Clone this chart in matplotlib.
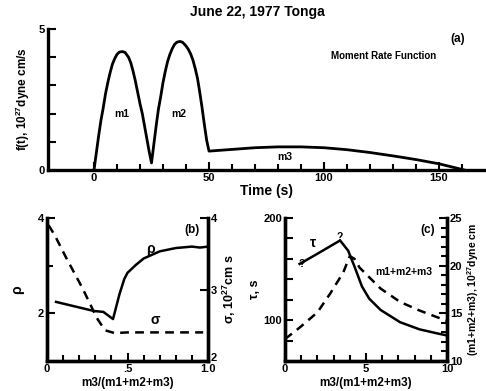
import matplotlib
matplotlib.use("Agg")
import matplotlib.pyplot as plt
from matplotlib.ticker import MultipleLocator, FixedLocator

plt.rcParams['font.family'] = ['Liberation Sans', 'DejaVu Sans']
plt.rcParams['font.weight'] = 'bold'
plt.rcParams['mathtext.default'] = 'regular'

# (a) moment rate function, time in s, f in 1e27 dyne cm/s
t_rate = [0, 1, 2, 3, 4, 5, 6, 7, 8, 9, 10, 11, 12.3, 13.5, 15, 16, 17, 18, 19, 20, 21, 22, 23, 24, 25,
          26, 27, 28, 29, 30, 31, 32, 33, 34, 35, 36, 37.3, 38.5, 40, 41, 42, 43, 44, 45, 46, 47, 48, 49, 50,
          60, 70, 80, 90, 100, 110, 120, 130, 140, 150, 161]
f_rate = [0, 0.6, 1.2, 1.75, 2.2, 2.7, 3.1, 3.45, 3.75, 3.95, 4.1, 4.18, 4.2, 4.17, 4.0, 3.8, 3.5, 3.15, 2.75, 2.35, 2.0, 1.55, 1.1, 0.65, 0.25,
          0.9, 1.55, 2.15, 2.6, 3.1, 3.5, 3.85, 4.1, 4.3, 4.45, 4.53, 4.56, 4.53, 4.4, 4.28, 4.12, 3.9, 3.6, 3.25, 2.75, 2.2, 1.6, 1.05, 0.67,
          0.73, 0.79, 0.82, 0.82, 0.79, 0.72, 0.62, 0.5, 0.37, 0.22, 0.0]

# (b) rho and sigma vs m3/(m1+m2+m3)
x_rho = [0.056, 0.29, 0.35, 0.41, 0.45, 0.48, 0.5, 0.55, 0.6, 0.7, 0.8, 0.9, 0.95, 1.0]
rho = [2.24, 2.05, 2.03, 1.88, 2.4, 2.72, 2.85, 3.01, 3.15, 3.3, 3.37, 3.4, 3.38, 3.4]
x_sig = [0.01, 0.05, 0.12, 0.22, 0.31, 0.36, 0.42, 0.5, 0.97]
sig = [3.9, 3.75, 3.44, 3.02, 2.6, 2.43, 2.39, 2.4, 2.4]

# (c) tau and total moment vs m3/(m1+m2+m3)
x_tau = [0.9, 2.0, 3.4, 3.9, 4.3, 4.75, 5.2, 5.9, 7.1, 8.3, 9.4, 10]
tau = [155, 165, 178, 168, 152, 133, 121, 110, 98, 91, 87, 85]
x_mom = [0, 0.9, 2.0, 2.8, 3.6, 4.0, 4.3, 4.6, 5.9, 7.1, 8.3, 10]
mom = [12.3, 13.5, 15.1, 17.1, 19.3, 21.0, 20.7, 19.8, 17.6, 16.2, 15.3, 14.2]

W, H = 486, 391
fig = plt.figure(figsize=(W / 100, H / 100), dpi=100)

def box(l, r, t, b):
    return [l / W, 1 - b / H, (r - l) / W, (b - t) / H]

def style(ax):
    for s in ax.spines.values():
        s.set_linewidth(2.4)
    ax.tick_params(direction='in', which='both', width=1.5, labelsize=8, pad=2)
    ax.tick_params(which='major', length=6)
    ax.tick_params(which='minor', length=4)

# ---- (a)
ax = fig.add_axes(box(48, 485, 29, 170))
ax.plot(t_rate, f_rate, color='k', lw=2)
ax.set_xlim(-20, 170)
ax.set_ylim(0, 5)
ax.spines['top'].set_visible(False)
ax.spines['right'].set_visible(False)
style(ax)
ax.xaxis.set_major_locator(FixedLocator([0, 50, 100, 150]))
ax.xaxis.set_minor_locator(FixedLocator([10, 20, 30, 40, 60, 70, 80, 90, 110, 120, 130, 140, 160]))
ax.yaxis.set_major_locator(FixedLocator([0, 5]))
ax.yaxis.set_minor_locator(FixedLocator([1, 2, 3, 4]))
ax.tick_params(axis='y', which='minor', length=6)
ax.set_xlabel('Time (s)', fontsize=10, fontweight='bold', labelpad=1)
ax.set_ylabel('f(t), 10$^{27}$dyne cm/s', fontsize=8.5, fontweight='bold', labelpad=5)
ax.text(12, 2.0, 'm1', fontsize=7.5, ha='center', va='center')
ax.text(37, 2.0, 'm2', fontsize=7.5, ha='center', va='center')
ax.text(83, 0.45, 'm3', fontsize=7.5, ha='center', va='center')
ax.text(158, 4.65, '(a)', fontsize=8.5, ha='center', va='center')
ax.text(126, 4.05, 'Moment Rate Function', fontsize=7, ha='center', va='center')
fig.text(257 / W, 1 - 12 / H, 'June 22, 1977 Tonga', fontsize=10, ha='center', va='center')

# ---- (b)
ax = fig.add_axes(box(47, 208, 218, 361))
ax.plot(x_rho, rho, color='k', lw=1.8)
ax.set_xlim(0, 1)
ax.set_ylim(1, 4)
ax.spines['top'].set_visible(False)
style(ax)
ax.xaxis.set_major_locator(FixedLocator([0, 0.5, 1]))
ax.set_xticklabels(['0', '.5', '1.0'])
ax.xaxis.set_minor_locator(MultipleLocator(0.1))
ax.yaxis.set_major_locator(FixedLocator([2, 4]))
ax.yaxis.set_minor_locator(FixedLocator([3]))
ax.set_ylabel('ρ', fontsize=10, fontweight='bold', labelpad=10)
ax.set_xlabel('m3/(m1+m2+m3)', fontsize=8.5, fontweight='bold', labelpad=2)
ax.text(0.64, 3.36, 'ρ', fontsize=10, ha='center', va='center')
ax.text(0.67, 1.86, 'σ', fontsize=10, ha='center', va='center')
ax.text(0.9, 3.75, '(b)', fontsize=8.5, ha='center', va='center')
ax2 = ax.twinx()
ax2.plot(x_sig, sig, color='k', lw=1.8, ls=(0, (3.5, 2.5)))
ax2.set_ylim(2, 4)
ax2.spines['top'].set_visible(False)
style(ax2)
ax2.yaxis.set_major_locator(FixedLocator([2, 3, 4]))
ax2.set_yticklabels(['2', '3', '4'])
ax2.get_yticklabels()[0].set_va('baseline')
ax2.set_ylabel('σ, 10$^{27}$cm s', fontsize=9, fontweight='bold', rotation=90, labelpad=3)

# ---- (c)
ax = fig.add_axes(box(285, 447, 218, 361))
ax.plot(x_tau, tau, color='k', lw=1.8)
ax.set_xlim(0, 10)
ax.set_ylim(60, 200)
ax.spines['top'].set_visible(False)
style(ax)
ax.xaxis.set_major_locator(FixedLocator([0, 5, 10]))
ax.xaxis.set_minor_locator(MultipleLocator(1))
ax.yaxis.set_major_locator(FixedLocator([100, 200]))
ax.yaxis.set_minor_locator(FixedLocator([80, 120, 140, 160, 180]))
ax.tick_params(axis='y', which='minor', length=6)
ax.set_ylabel('τ, s', fontsize=9, fontweight='bold', labelpad=2)
ax.set_xlabel('m3/(m1+m2+m3)', fontsize=8.5, fontweight='bold', labelpad=2)
ax.text(1.0, 155, '?', fontsize=7.5, ha='center', va='center')
ax.text(3.4, 181, '?', fontsize=7.5, ha='center', va='center')
ax.text(1.7, 176, 'τ', fontsize=10, ha='center', va='center')
ax.text(8.8, 188, '(c)', fontsize=8.5, ha='center', va='center')
ax.text(7.3, 147, 'm1+m2+m3', fontsize=7.5, ha='center', va='center')
ax2 = ax.twinx()
ax2.plot(x_mom, mom, color='k', lw=1.8, ls=(0, (3.5, 2.5)))
ax2.set_ylim(10, 25)
ax2.spines['top'].set_visible(False)
style(ax2)
ax2.yaxis.set_major_locator(FixedLocator([10, 15, 20, 25]))
ax2.yaxis.set_minor_locator(MultipleLocator(1))
ax2.set_ylabel('(m1+m2+m3), 10$^{27}$dyne cm', fontsize=7.5, fontweight='bold', rotation=90, labelpad=2)

fig.savefig('out.png', dpi=100)
